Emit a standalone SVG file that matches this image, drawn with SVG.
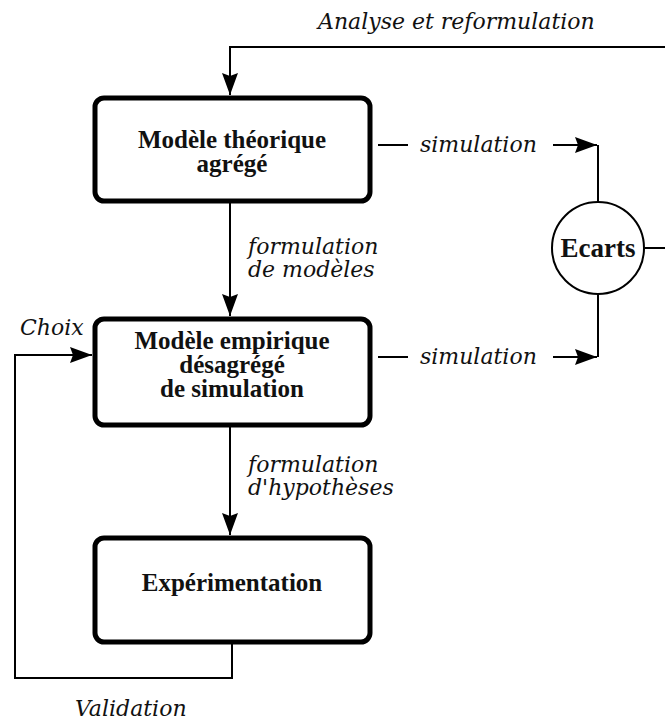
<svg xmlns="http://www.w3.org/2000/svg" width="665" height="725" viewBox="0 0 665 725">
<style>
.box{fill:#fff;stroke:#000;stroke-width:5}
.bt{font-family:"Liberation Serif","Times New Roman",serif;font-weight:bold;font-size:25px;text-anchor:middle;fill:#111}
.lb{font-family:"DejaVu Serif",serif;font-style:italic;font-size:22px;fill:#111}
.cn{fill:none;stroke:#000;stroke-width:2}
</style>
<defs>
<marker id="ah" markerUnits="userSpaceOnUse" markerWidth="24" markerHeight="18" refX="22" refY="8" orient="auto">
<path d="M0,0 L22,8 L0,16 L3,8 z" fill="#000"/>
</marker>
</defs>
<g id="connectors">
<path class="cn" d="M665,47 H230 V95" marker-end="url(#ah)"/>
<path class="cn" d="M230,202 V316" marker-end="url(#ah)"/>
<path class="cn" d="M230,427 V535" marker-end="url(#ah)"/>
<path class="cn" d="M378,145 H408"/>
<path class="cn" d="M553,145 H597" marker-end="url(#ah)"/>
<path class="cn" d="M598,145 V202"/>
<path class="cn" d="M378,357 H408"/>
<path class="cn" d="M553,357 H597" marker-end="url(#ah)"/>
<path class="cn" d="M598,357 V294"/>
<path class="cn" d="M645,248 H665"/>
<path class="cn" d="M232,644 V678 H15 V355 H92" marker-end="url(#ah)"/>
</g>
<g id="labels">
<text class="lb" x="318" y="29">Analyse et reformulation</text>
<text class="lb" x="420" y="152">simulation</text>
<text class="lb" x="420" y="364">simulation</text>
<text class="lb" x="248" y="254">formulation</text>
<text class="lb" x="248" y="277">de modèles</text>
<text class="lb" x="248" y="472">formulation</text>
<text class="lb" x="248" y="495">d'hypothèses</text>
<text class="lb" x="20" y="335">Choix</text>
<text class="lb" x="75" y="716">Validation</text>
</g>
<g id="n1">
<rect class="box" x="95" y="98" width="275" height="103" rx="9"/>
<text class="bt" x="232" y="148">Modèle théorique</text>
<text class="bt" x="232" y="172">agrégé</text>
</g>
<g id="n2">
<rect class="box" x="95" y="319" width="275" height="106" rx="9"/>
<text class="bt" x="232" y="349">Modèle empirique</text>
<text class="bt" x="232" y="373">désagrégé</text>
<text class="bt" x="232" y="397">de simulation</text>
</g>
<g id="n3">
<rect class="box" x="95" y="538" width="275" height="104" rx="9"/>
<text class="bt" x="232" y="591">Expérimentation</text>
</g>
<g id="ecarts">
<circle cx="598" cy="248" r="46" fill="#fff" stroke="#000" stroke-width="2"/>
<text class="bt" x="598" y="257" style="font-size:27px">Ecarts</text>
</g>
</svg>
